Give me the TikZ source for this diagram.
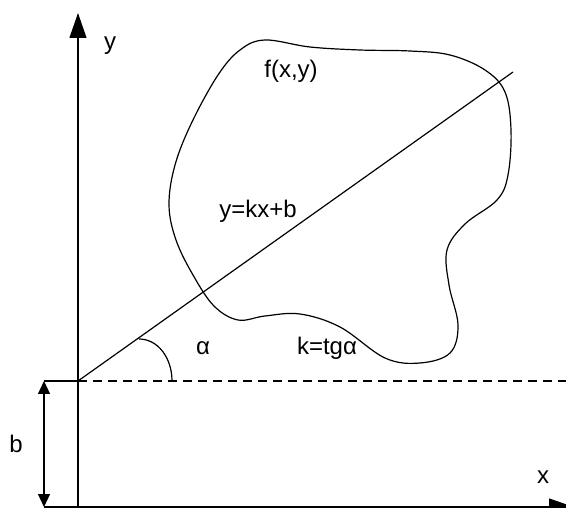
\documentclass[tikz,border=0pt]{standalone}
\usepackage{fontspec}
\setmainfont{Liberation Sans}
\usetikzlibrary{arrows.meta}
\begin{document}
\begin{tikzpicture}[x=1pt,y=-1pt,
  lbl/.style={inner sep=0pt,anchor=base,font=\fontsize{24}{28}\selectfont},
  ln/.style={line width=1.2pt,black},
  axisarrow/.style={-{Triangle[length=25pt,width=17pt]}},
  dimarrow/.style={{Triangle[length=13pt,width=12pt]}-{Triangle[length=13pt,width=12pt]}},
  dashline/.style={dash pattern=on 9pt off 6pt}]
\useasboundingbox (0,0) rectangle (566,508);
\clip (0,0) rectangle (566,508);
% coordinates
\coordinate (O) at (78,381);
\coordinate (ybot) at (78,507);
\coordinate (ytop) at (78,13);
\coordinate (xl) at (44,507);
\coordinate (xr) at (574,507);
\coordinate (bt) at (44,381);
\coordinate (bb) at (44,507);
\coordinate (dend) at (566,381);
\coordinate (lend) at (513,72);
% axes
\draw[ln,axisarrow] (ybot) -- (ytop);
\draw[ln,axisarrow] (xl) -- (xr);
% b dimension
\draw[ln,dimarrow] (bt) -- (bb);
\draw[ln] (bt) -- (O);
\draw[ln,dashline] (O) -- (dend);
% line y=kx+b
\draw[ln] (O) -- (lend);
% angle arc
\draw[ln] (139,339) .. controls (158,339) and (172,358) .. (172,381);
% blob
\draw[ln] plot[smooth cycle,tension=0.6] coordinates {
 (265,40) (310,47) (360,50) (410,51) (450,55) (485,70) (505,92) (511,130)
 (508,175) (497,200) (465,224) (447,250) (449,285) (458,325) (450,353)
 (420,363) (385,358) (340,327) (300,314) (265,316) (238,320) (214,306)
 (193,275) (176,240) (169,205) (175,165) (192,122) (218,75) (240,50)};
% labels
\node[lbl] (ylab) at (110,50) {y};
\node[lbl] (xlab) at (543,483) {x};
\node[lbl] (blab) at (16,452) {b};
\node[lbl] (flab) at (291,78) {f(x,y)};
\node[lbl] (llab) at (258,218) {y=kx+b};
\node[lbl] (alab) at (203,355) {α};
\node[lbl] (klab) at (327,355) {k=tgα};
\end{tikzpicture}
\end{document}
